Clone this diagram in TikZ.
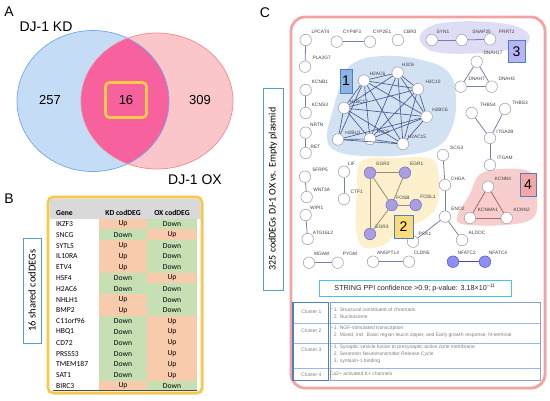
\documentclass[tikz,border=0pt]{standalone}
\usepackage{fontspec}
\setmainfont{Liberation Sans}
\newfontfamily\carl{Carlito}
\usetikzlibrary{shadows}
\definecolor{vblue}{HTML}{C4DCF5}
\definecolor{vblueD}{HTML}{6FA8EE}
\definecolor{vpink}{HTML}{FAC6CA}
\definecolor{vpinkD}{HTML}{F08A8E}
\definecolor{vlens}{HTML}{F6619E}
\definecolor{yel}{HTML}{F7C948}
\definecolor{cUp}{HTML}{F8CBAD}
\definecolor{cDown}{HTML}{C6E0B4}
\definecolor{hdr}{HTML}{D9D9D9}
\definecolor{boxblue}{HTML}{5B9BD5}
\definecolor{frame}{HTML}{F4A3A3}
\definecolor{cyanb}{HTML}{4CC3E6}
\definecolor{ctab}{HTML}{4F7FC0}
\definecolor{ctabL}{HTML}{9DB8DE}
\definecolor{ngrey}{HTML}{A8A8A8}
\definecolor{labgrey}{HTML}{404040}
\definecolor{edgec}{HTML}{7282AA}
\definecolor{edge1}{HTML}{4A5A90}
\definecolor{edge2}{HTML}{948C78}
\definecolor{edge4}{HTML}{A86878}
\definecolor{purpF}{HTML}{A99FE0}
\definecolor{purpD}{HTML}{7E72C8}
\definecolor{nfF}{HTML}{8F8FF2}
\definecolor{nfD}{HTML}{5C5CD6}
\definecolor{blob1}{HTML}{D2E2F3}
\definecolor{blob2}{HTML}{FDF0CC}
\definecolor{blob3}{HTML}{DFDCF6}
\definecolor{blob4}{HTML}{F8CDCD}
\definecolor{b1}{HTML}{8EB4E3}
\definecolor{b2}{HTML}{FBDC7A}
\definecolor{b3}{HTML}{B8B5F2}
\definecolor{b4}{HTML}{F4A7A7}
\definecolor{ctext}{HTML}{808080}
\tikzset{
 gn/.style={circle, draw=ngrey, fill=white, minimum size=11.5pt, inner sep=0pt, line width=0.6pt},
 pn/.style={gn, fill=purpF, draw=purpD},
 bn/.style={gn, fill=nfF, draw=nfD},
 lab/.style={font=\fontsize{4.8}{5}\selectfont, text=labgrey, inner sep=0pt},
 ed/.style={draw=edgec, line width=0.8pt},
 ed1/.style={draw=edge1, line width=0.65pt},
 ed2/.style={draw=edge2, line width=0.8pt},
 ed4/.style={draw=edge4, line width=0.8pt},
 numbox/.style={draw=ctab, line width=0.7pt, inner sep=0pt, font=\fontsize{14}{14}\selectfont},
 tb/.style={font=\carl\fontsize{7.6}{8}\selectfont, inner sep=0pt},
 tbh/.style={font=\carl\bfseries\fontsize{7.6}{8}\selectfont, inner sep=0pt},
 ct/.style={font=\fontsize{5}{5.5}\selectfont, text=ctext, inner sep=0pt, anchor=west},
 panel/.style={font=\fontsize{14}{14}\selectfont, inner sep=0pt},
}
\newcommand\gnode[6][gn]{\node[#1] (#2) at (#3,#4) {}; \node[lab] (#2-l) at (#5,#6) {#2};}
\begin{document}
\begin{tikzpicture}[x=1pt,y=-1pt]
\useasboundingbox (0,0) rectangle (550,400);
% ---------------- Panel A ----------------
\node[panel] (pA) at (9,12) {A};
\fill[vblue] (93,101) ellipse [x radius=76, y radius=70.5];
\fill[vpink] (157,101) ellipse [x radius=76, y radius=68];
\begin{scope}
 \clip (93,101) ellipse [x radius=76, y radius=70.5];
 \fill[vlens] (157,101) ellipse [x radius=76, y radius=68];
\end{scope}
\draw[vblueD, line width=0.7pt] (93,101) ellipse [x radius=76, y radius=70.5];
\draw[vpinkD, line width=0.7pt] (157,101) ellipse [x radius=76, y radius=68];
\node[font=\fontsize{14}{14}\selectfont, inner sep=0pt] (kd) at (46,27) {DJ-1 KD};
\node[font=\fontsize{14}{14}\selectfont, inner sep=0pt] (ox) at (195,180) {DJ-1 OX};
\node[font=\fontsize{13}{13}\selectfont, inner sep=0pt] (n257) at (50,100) {257};
\node[font=\fontsize{13}{13}\selectfont, inner sep=0pt] (n309) at (200,100) {309};
\node[font=\fontsize{13}{13}\selectfont, draw=yel, line width=2.8pt, rounded corners=4pt, minimum width=41pt, minimum height=35pt] (n16) at (126,100) {16};
% ---------------- Panel B ----------------
\node[panel] (pB) at (9,199) {B};
\node[fill=white, rounded corners=5pt, minimum width=154pt, minimum height=196pt, drop shadow={opacity=0.25, shadow xshift=1.5pt, shadow yshift=-1.5pt}] (tabB) at (125,295) {};
\fill[hdr, rounded corners=4pt] (49.5,198.5) rectangle (200.5,225);
\fill[white] (53,218.6) rectangle (99,226);
\foreach [count=\i from 0] \g/\k/\o in {IKZF3/Up/Down, SNCG/Down/Up, SYTL5/Up/Down, IL10RA/Up/Down, ETV4/Up/Down, HSF4/Down/Up, H2AC6/Down/Down, NHLH1/Up/Down, BMP2/Up/Down, C11orf96/Down/Up, HBQ1/Down/Up, CD72/Down/Up, PRSS53/Down/Up, TMEM187/Down/Up, SAT1/Down/Up, BIRC3/Up/Down} {
 \pgfmathsetmacro\yy{224+10.8*\i}
 \fill[c\k] (99,{\yy-5.4}) rectangle (147,{\yy+5.4});
 \fill[c\o] (147,{\yy-5.4}) rectangle (197,{\yy+5.4});
 \node[tb, anchor=west] (g\i) at (56,\yy) {\g};
 \node[tb] (k\i) at (123,\yy) {\k};
 \node[tb] (o\i) at (172,\yy) {\o};
}
\fill[white] (49.5,218.6) rectangle (53,392);
\fill[white] (197,218.6) rectangle (200.5,392);
\draw[black!70, line width=0.7pt] (53,390.5) -- (197,390.5);
\node[tbh, anchor=west] (hg) at (56,213) {Gene};
\node[tbh] (hk) at (123,213) {KD codDEG};
\node[tbh] (ho) at (172,213) {OX codDEG};
\draw[yel, line width=2.6pt, rounded corners=5pt] (48,197) rectangle (202,393);
\node[draw=boxblue, line width=0.8pt, rotate=90, minimum width=105pt, minimum height=18pt, inner sep=0pt, font=\carl\fontsize{10.5}{11}\selectfont] (v16) at (32,290.5) {16 shared codDEGs};
% ---------------- Panel C ----------------
\node[panel] (pC) at (265,13) {C};
\node[draw=boxblue, line width=0.8pt, rotate=90, minimum width=202pt, minimum height=20pt, inner sep=0pt, font=\carl\fontsize{10}{11}\selectfont] (v325) at (273,189) {325 codDEGs DJ-1 OX vs. Empty plasmid};
\node[draw=frame, fill=white, line width=2.8pt, rounded corners=14pt, minimum width=254pt, minimum height=371pt, drop shadow={opacity=0.2, shadow xshift=1.5pt, shadow yshift=-1.5pt}] (frameC) at (418,202.5) {};
% blobs
\fill[blob1] plot[smooth cycle, tension=0.7] coordinates {(352,64) (382,56) (422,60) (449,73) (456,100) (451,130) (435,148) (405,155) (365,156) (336,151) (327,137) (333,110) (341,84)};
\fill[blob2] plot[smooth cycle, tension=0.6] coordinates {(362,161) (398,158) (432,159) (439,178) (437,205) (425,219) (398,232) (384,245) (363,247) (356,228) (357,190)};
\fill[blob3] plot[smooth cycle, tension=0.7] coordinates {(424,30) (450,22) (500,23) (527,32) (524,45) (492,52) (442,53) (422,44)};
\fill[blob4] plot[smooth cycle, tension=0.6] coordinates {(479,175) (500,169) (530,172) (537,195) (533,218) (505,225) (462,224) (458,214) (470,194)};
% nodes
\gnode{LPCAT4}{305.7}{40}{320.5}{32.3}
\gnode{CYP4F3}{336.7}{41.7}{352}{32.3}
\gnode{CYP2E1}{370}{41.7}{382}{32.3}
\gnode{CBR3}{398}{40}{410}{32}
\gnode{PLA2G7}{305}{66.7}{321.7}{58}
\gnode{KCNB1}{305.7}{90}{320}{82}
\gnode{KCNS3}{305.7}{113}{320}{105}
\gnode{NRTN}{305.7}{132.7}{316.7}{125}
\gnode{RET}{305.7}{153}{315.5}{147}
\gnode{SFRP5}{305}{176.7}{320}{170}
\gnode{WNT3A}{306.7}{197}{321.7}{190}
\gnode{WIPI1}{305.7}{215}{316.7}{207.5}
\gnode{ATG16L2}{307.7}{239}{323}{232.7}
\gnode{MGAM}{309}{262.7}{321.7}{254}
\gnode{PYGM}{337.7}{262.7}{350}{254}
\gnode{ANGPTL4}{373}{261.7}{388}{253}
\gnode{CLDN5}{409}{261.7}{421.7}{253}
\gnode[bn]{NFATC2}{453}{261.7}{466.7}{253}
\gnode[bn]{NFATC4}{485}{261.7}{498}{253}
\gnode{PCK1}{413}{241.7}{425}{234}
\gnode{ALDOC}{462}{240}{477}{233}
\gnode{LIF}{344}{171.7}{351.7}{164}
\gnode{CTF1}{344}{199}{356.7}{191.7}
% cluster 1
\gnode{H2AC6}{364}{80.5}{377.5}{74}
\gnode{H3C6}{397.7}{72.7}{408}{65}
\gnode{H3C10}{418}{89}{433}{82}
\gnode{H2BC17}{344}{108}{359}{101.7}
\gnode{H2BC6}{426.7}{116.7}{440}{110}
\gnode{H2BU1}{338}{139.5}{353}{132.7}
\gnode{H4C8}{370}{139}{383}{131.7}
\gnode{H2AC15}{403}{144}{417}{136.7}
% cluster 3
\gnode{SYN1}{431.7}{40}{443}{31.7}
\gnode{SNAP25}{461.7}{40}{481.7}{31.7}
\gnode{PRRT2}{490}{39.3}{506.7}{31.7}
\gnode{DNAH17}{476.7}{61.7}{493}{53}
\gnode{DNAH7}{460.7}{86.7}{476.7}{79}
\gnode{DNAH3}{491.7}{86.7}{506.7}{79}
\gnode{THBS4}{471.7}{113}{488}{105}
\gnode{THBS3}{505}{109}{520}{103}
\gnode{ITGA2B}{490}{138}{505}{131.7}
\gnode{ITGAM}{490}{165}{505}{158}
\gnode{SCG3}{443}{155}{456.7}{148}
\gnode{CHGA}{445}{185}{458}{179}
\gnode{ENO2}{445}{216.7}{458}{209}
% cluster 4
\gnode{KCNN4}{488}{186.7}{503}{179}
\gnode{KCNMA1}{470}{218}{488}{210}
\gnode{KCNN2}{506.7}{218}{521.7}{210}
% cluster 2
\gnode[pn]{EGR2}{370}{172.7}{383}{164}
\gnode[pn]{EGR1}{405}{172.7}{416.7}{164}
\gnode[pn]{FOSB}{391.7}{205}{403}{197.7}
\gnode[pn]{FOSL1}{415.7}{205}{428}{197}
\gnode[pn]{EGR3}{370}{234}{382}{226.7}
% edges
\foreach \a/\b in {LPCAT4/PLA2G7, CYP4F3/CYP2E1, KCNB1/KCNS3, NRTN/RET, SFRP5/WNT3A, WIPI1/ATG16L2, LIF/CTF1, ANGPTL4/CLDN5, SYN1/SNAP25, SNAP25/PRRT2, DNAH17/DNAH7, DNAH17/DNAH3, DNAH7/DNAH3, THBS4/ITGA2B, THBS3/ITGA2B, ITGA2B/ITGAM, SCG3/CHGA, CHGA/ENO2, ENO2/PCK1, ENO2/ALDOC}
 \draw[ed] (\a) -- (\b);
\draw[ed, line width=1.3pt] (MGAM) -- (PYGM);
\draw[ed, draw=nfD!80!black] (NFATC2) -- (NFATC4);
\foreach \a/\b in {H2AC6/H3C6, H2AC6/H3C10, H2AC6/H2BC17, H2AC6/H2BC6, H2AC6/H2BU1, H2AC6/H4C8, H2AC6/H2AC15, H3C6/H3C10, H3C6/H2BC17, H3C6/H2BC6, H3C6/H4C8, H3C6/H2AC15, H3C10/H2BC17, H3C10/H2BC6, H3C10/H4C8, H3C10/H2AC15, H2BC17/H2BC6, H2BC17/H2BU1, H2BC17/H4C8, H2BC17/H2AC15, H2BC6/H2BU1, H2BC6/H4C8, H2BC6/H2AC15, H2BU1/H4C8, H2BU1/H2AC15, H4C8/H2AC15}
 \draw[ed1] (\a) -- (\b);
\foreach \a/\b in {EGR2/EGR1, EGR2/FOSB, EGR1/FOSB, FOSB/FOSL1, FOSB/EGR3, EGR2/EGR3}
 \draw[ed2] (\a) -- (\b);
\foreach \a/\b in {KCNN4/KCNMA1, KCNN4/KCNN2, KCNMA1/KCNN2}
 \draw[ed4] (\a) -- (\b);
% number boxes
\node[numbox, fill=b1, minimum width=12pt, minimum height=24pt] (nb1) at (346,81) {1};
\node[numbox, fill=b2, minimum width=19pt, minimum height=23pt] (nb2) at (403.5,226.5) {2};
\node[numbox, fill=b3, minimum width=17pt, minimum height=22pt] (nb3) at (516.5,51.5) {3};
\node[numbox, fill=b4, minimum width=16pt, minimum height=23pt] (nb4) at (528,184.5) {4};
% STRING box
\node[draw=cyanb, line width=1pt, minimum width=192pt, minimum height=16pt, inner sep=0pt, font=\fontsize{7.2}{8}\selectfont, text=black!85] (ppi) at (415,288) {STRING PPI confidence >0.9; p-value: 3.18×10\textsuperscript{−11}};
% cluster table
\draw[ctabL, line width=0.6pt] (293,323.3) -- (540.7,323.3);
\draw[ctabL, line width=0.6pt] (293,343.3) -- (540.7,343.3);
\draw[ctabL, line width=0.6pt] (293,368.3) -- (540.7,368.3);
\draw[ctab!70, line width=1pt] (330,302.7) rectangle (540.7,380.7);
\draw[ctab, line width=1.1pt] (293,302.7) rectangle (328.3,380.7);
\node[ct, anchor=center] (c1) at (311.5,311.7) {Cluster 1};
\node[ct, anchor=center] (c2) at (311.5,330.7) {Cluster 2};
\node[ct, anchor=center] (c3) at (311.5,349.3) {Cluster 3};
\node[ct, anchor=center] (c4) at (311.5,375) {Cluster 4};
\node[ct] (d1) at (330.3,310) {–};
\node[ct] (t11) at (333.6,310) {1. Structural constituent of chromatin};
\node[ct] (t12) at (333.6,316.7) {2. Nucleosome};
\node[ct] (d2) at (330.3,328.3) {–};
\node[ct] (t21) at (333.6,328.3) {1. NGF-stimulated transcription};
\node[ct] (t22) at (333.6,335) {2. Mixed, incl. Basic region leucin zipper, and Early growth response, N-terminal};
\node[ct] (d3) at (330.3,347.3) {–};
\node[ct] (t31) at (333.6,347.3) {1. Synaptic vesicle fusion to presynaptic active zone membrane};
\node[ct] (t32) at (333.6,354.3) {2. Serotonin Neurotransmitter Release Cycle};
\node[ct] (t33) at (333.6,361) {3. syntaxin-1 binding};
\node[ct] (t41) at (329.6,373.3) {Ca2+ activated K+ channels};
\end{tikzpicture}
\end{document}
